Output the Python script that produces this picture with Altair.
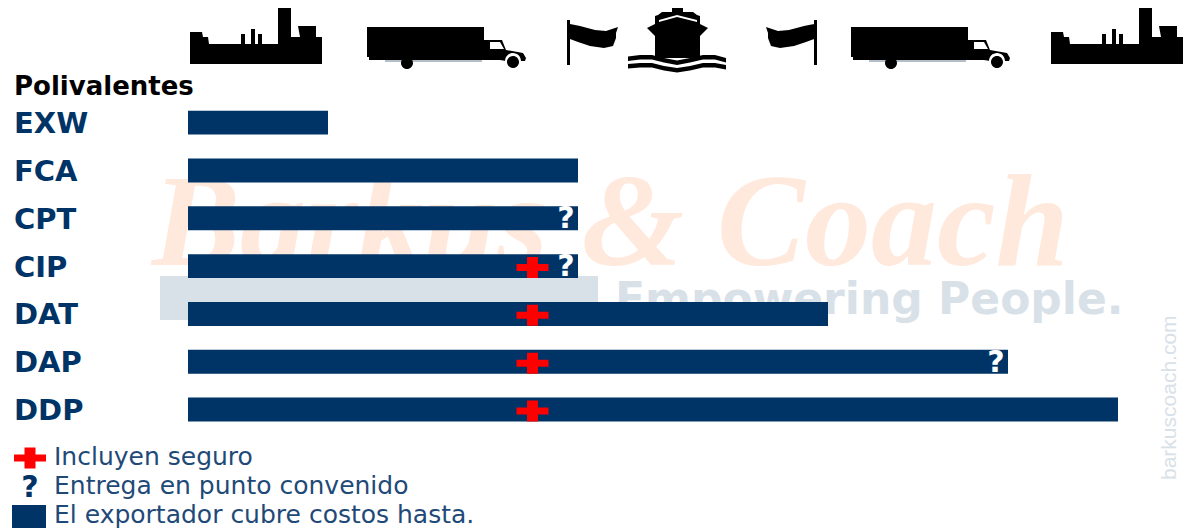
import altair as alt
import pandas as pd

# ---- values ----
codes = ["EXW", "FCA", "CPT", "CIP", "DAT", "DAP", "DDP"]
reach = [140, 390, 390, 390, 640, 820, 930]
with_insurance = ["CIP", "DAT", "DAP", "DDP"]
with_point = ["CPT", "CIP", "DAP"]
group_title = "Polivalentes"
legend_texts = ["Incluyen seguro", "Entrega en punto convenido", "El exportador cubre costos hasta."]

NAVY = "#003366"
RED = "#ff0000"
PEACH = "#ffe8dc"
MIST = "#d9e1e8"
W, H = 1179, 521
X0, Y0, STEP = 188.0, 122.6, 47.83


def ux(px):
    return px - X0


def uy(px):
    return (px - Y0) / STEP


xscale = alt.Scale(domain=[ux(8), ux(8 + W)], nice=False, zero=False)
yscale = alt.Scale(domain=[uy(529), uy(8)], nice=False, zero=False)
X = alt.X("x:Q", scale=xscale, axis=None)
Y = alt.Y("y:Q", scale=yscale, axis=None)


# ---- icon outlines (pixels around an anchor; size=4 makes one path unit one pixel) ----
def poly(points, ax, ay, mirror=False):
    sign = -1 if mirror else 1
    p = [(sign * (x - ax), y - ay) for x, y in points]
    return "M" + "L".join(f"{x:.1f},{y:.1f}" for x, y in p) + "Z"


def circle(cx, cy, r, ax, ay):
    x, y = cx - ax, cy - ay
    return f"M{x - r},{y}A{r},{r},0,1,0,{x + r},{y}A{r},{r},0,1,0,{x - r},{y}Z"


def strip(points, th):
    return points + [(x, y + th) for x, y in reversed(points)]


factory = poly([(190, 32), (202, 32), (203, 37), (208, 37), (209, 44), (241, 44), (241, 34), (245, 34),
                (245, 44), (251, 44), (251, 29), (255, 29), (255, 44), (258, 44), (258, 34), (262, 34),
                (262, 44), (278, 44), (278, 7), (291, 7), (291, 37), (300, 37), (298, 26), (316, 26),
                (316, 37), (322, 37), (322, 64), (190, 64)], 256, 36)

truck_black = (
    poly([(367, 27), (484, 27), (484, 57), (367, 57)], 446, 36)
    + poly([(484, 40), (487, 40), (488, 40), (502, 40), (506, 50), (523, 53), (526, 58), (525, 61),
            (506, 61), (500, 60), (484, 60)], 446, 36)
    + poly([(369, 57), (484, 57), (484, 60), (369, 60)], 446, 36)
)
truck_white = (
    poly([(490, 42), (500, 42), (504, 49), (490, 49)], 446, 36)
    + circle(513, 61, 8, 446, 36)
)
truck_wheels = circle(513, 62, 6, 446, 36) + circle(407, 63, 6, 446, 36)
truck_grey = poly([(385, 60), (482, 60), (482, 62), (385, 62)], 446, 36)

flag_points = [(570, 24), (580, 26), (595, 30), (606, 31), (618, 27), (616, 33), (616, 38), (613, 46),
               (604, 48), (590, 46), (578, 42), (570, 39)]
pole_points = [(567, 20), (570, 20), (570, 65), (567, 65)]
flag_left = poly(flag_points, 592, 36) + poly(pole_points, 592, 36)
flag_right = poly(flag_points, 592, 36, mirror=True) + poly(pole_points, 592, 36, mirror=True)

ship_black = (
    poly([(672, 5), (683, 5), (683, 12), (693, 12), (697, 15), (700, 16), (700, 24), (708, 28), (700, 36),
          (700, 58), (655, 58), (655, 36), (647, 28), (655, 24),
          (655, 16), (658, 15), (662, 12), (672, 12)], 677, 36)
    + poly(strip([(628, 56.5), (640, 55), (652, 55), (664, 58), (677, 60.5), (690, 58), (703, 55), (715, 55),
                  (726, 58)], 4.5), 677, 36)
    + poly(strip([(628, 64), (640, 63), (652, 63), (664, 66), (677, 68), (690, 66), (703, 63), (715, 63),
                  (726, 65)], 4.5), 677, 36)
)
ship_white = poly([(659, 20), (677, 15), (697, 20), (697, 22), (677, 17), (659, 22)], 677, 36)
plus = "M-16,-3.5H-5.5V-10.5H5.5V-3.5H16V3.5H5.5V10.5H-5.5V3.5H-16Z"


def icon(centers, path, color="#000000"):
    df = pd.DataFrame({"x": [ux(c) for c in centers], "y": uy(36)})
    return alt.Chart(df).mark_point(shape=path, filled=True, size=4, color=color, opacity=1, strokeWidth=0).encode(x=X, y=Y)


def text(rows, **style):
    df = pd.DataFrame(rows)
    return alt.Chart(df).mark_text(**style).encode(x=X, y=Y, text="t:N")


def rect(rows, color):
    df = pd.DataFrame(rows)
    return alt.Chart(df).mark_rect(color=color).encode(x=X, x2="x2:Q", y=Y, y2="y2:Q")


rows = list(range(len(codes)))
pos = dict(zip(codes, rows))
layers = [
    # watermark
    text([{"x": ux(152), "y": uy(265), "t": "Barkus & Coach"}], font="Liberation Serif", fontStyle="italic",
         fontWeight="bold", fontSize=132, color=PEACH, align="left", baseline="alphabetic"),
    rect([{"x": ux(160), "x2": ux(598), "y": uy(276), "y2": uy(320)}], MIST),
    text([{"x": ux(615), "y": uy(314), "t": "Empowering People."}], font="DejaVu Sans", fontWeight="bold",
         fontSize=44, color=MIST, align="left", baseline="alphabetic"),
    text([{"x": ux(1176), "y": uy(480), "t": "barkuscoach.com"}], font="Liberation Sans", fontSize=21,
         color=MIST, angle=270, align="left", baseline="alphabetic"),
    # icons
    icon([256, 1117], factory),
    icon([446, 930], truck_grey, "#b4bec8"),
    icon([446, 930], truck_black),
    icon([446, 930], truck_white, "#ffffff"),
    icon([446, 930], truck_wheels),
    icon([592], flag_left),
    icon([792], flag_right),
    icon([677], ship_black),
    icon([677], ship_white, "#ffffff"),
    # bars
    rect([{"x": 0, "x2": r, "y": i - 0.25, "y2": i + 0.25} for i, r in zip(rows, reach)], NAVY),
    # row labels
    text([{"x": ux(14), "y": uy(87), "t": group_title}], font="DejaVu Sans", fontWeight="bold", fontSize=26,
         color="#000000", align="left", baseline="middle"),
    text([{"x": ux(14), "y": i + 0.03, "t": c} for i, c in zip(rows, codes)], font="DejaVu Sans", fontWeight="bold",
         fontSize=29, color=NAVY, align="left", baseline="middle"),
    # markers on the bars
    alt.Chart(pd.DataFrame({"x": ux(532.5), "y": [pos[c] + 0.03 for c in with_insurance]}))
    .mark_point(shape=plus, filled=True, size=4, color=RED, opacity=1, strokeWidth=0).encode(x=X, y=Y),
    text([{"x": r - 12, "y": pos[c] + 0.02, "t": "?"} for c, r in zip(codes, reach) if c in with_point],
         font="DejaVu Sans", fontWeight="bold", fontSize=30, color="#ffffff", align="center", baseline="middle"),
    # key
    alt.Chart(pd.DataFrame({"x": [ux(30)], "y": [uy(458)]}))
    .mark_point(shape=plus, filled=True, size=4, color=RED, opacity=1, strokeWidth=0).encode(x=X, y=Y),
    text([{"x": ux(30), "y": uy(488), "t": "?"}], font="DejaVu Sans", fontWeight="bold", fontSize=30,
         color=NAVY, align="center", baseline="middle"),
    rect([{"x": ux(12), "x2": ux(46), "y": uy(505), "y2": uy(528)}], NAVY),
    text([{"x": ux(54), "y": uy(y), "t": t} for y, t in zip([465, 494, 522.5], legend_texts)],
         font="DejaVu Sans", fontSize=25, color="#1f4a78", align="left", baseline="alphabetic"),
]

chart = (
    alt.layer(*layers)
    .properties(width=W, height=H, padding=0, autosize=alt.AutoSizeParams(type="none"))
    .configure_view(stroke=None)
)
chart.save("out.html", embed_options={"renderer": "svg", "actions": False})
